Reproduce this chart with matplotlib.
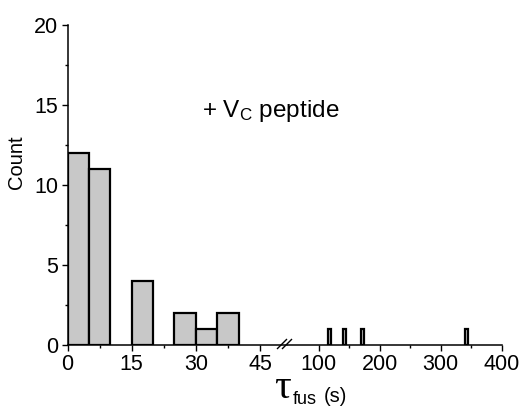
import matplotlib
matplotlib.use("Agg")
import matplotlib.pyplot as plt
from matplotlib.ticker import MultipleLocator, FixedLocator
from matplotlib.lines import Line2D

plt.rcParams['font.family'] = ['Liberation Sans', 'DejaVu Sans']
plt.rcParams['mathtext.fontset'] = 'custom'
plt.rcParams['mathtext.rm'] = 'Liberation Sans'
plt.rcParams['mathtext.it'] = 'Liberation Sans'
plt.rcParams['mathtext.sf'] = 'Liberation Serif'

# ---- data ----
left_bin_starts = [0, 5, 10, 15, 20, 25, 30, 35]
left_counts = [12, 11, 0, 4, 0, 2, 1, 2]
right_bin_starts = [115, 140, 170, 340]
right_counts = [1, 1, 1, 1]
bin_width = 5
left_xticks = [0, 15, 30, 45]
right_xticks = [100, 200, 300, 400]
yticks = [0, 5, 10, 15, 20]

W, H = 519, 407
fig = plt.figure(figsize=(W / 100, H / 100), dpi=100)

def fx(x):
    return x / W

def fy(y):
    return 1 - y / H

y0, y20 = 345.0, 25.0
bottom = fy(y0)
height = (y0 - y20) / H
x_left0 = 67.5
ppu_left = 4.28
x_break = 287.5
left_xmax = (x_break - x_left0) / ppu_left
ppu_right = 0.61
right_xmin = 100 - (318.7 - x_break) / ppu_right
x_right_end = 318.7 + 300 * ppu_right

axL = fig.add_axes([fx(x_left0), bottom, fx(x_break - x_left0), height])
axR = fig.add_axes([fx(x_break), bottom, fx(x_right_end - x_break), height])

bar_kw = dict(width=bin_width, align='edge', color='#c8c8c8', edgecolor='black', linewidth=1.6)
lx = [s for s, c in zip(left_bin_starts, left_counts) if c > 0]
lc = [c for c in left_counts if c > 0]
axL.bar(lx, lc, **bar_kw)
axR.bar(right_bin_starts, right_counts, **bar_kw)

axL.set_xlim(0, left_xmax)
axR.set_xlim(right_xmin, 400)
for ax in (axL, axR):
    ax.set_ylim(0, 20)
    ax.spines['top'].set_visible(False)
    ax.spines['right'].set_visible(False)
    ax.spines['bottom'].set_linewidth(1.1)
    ax.spines['left'].set_linewidth(1.1)
    ax.tick_params(which='major', direction='out', length=4.5, width=1.0, labelsize=15.5, pad=2)
    ax.tick_params(which='minor', direction='out', length=2.5, width=1.0)
    ax.set_facecolor('none')

axL.set_xticks(left_xticks)
axL.xaxis.set_minor_locator(FixedLocator([7.5, 22.5, 37.5]))
axL.set_yticks(yticks)
axL.yaxis.set_minor_locator(MultipleLocator(2.5))

axR.set_xticks(right_xticks)
axR.xaxis.set_minor_locator(FixedLocator([150, 250, 350]))
axR.spines['left'].set_visible(False)
axR.set_yticks([])
axR.yaxis.set_minor_locator(FixedLocator([]))

# y label
fig.text(fx(16.5), fy(162.5), 'Count', fontsize=14.5, rotation=90, ha='center', va='center')

# break marks
for dx in (-8, -3):
    fig.add_artist(Line2D([fx(x_break + dx - 2), fx(x_break + dx + 7)],
                          [fy(348.5), fy(339.5)], color='black', lw=1.0))

# annotation
fig.text(fx(202.5), fy(116.7), r'+ V$_\mathrm{C}$ peptide', fontsize=17.5, va='baseline', ha='left')

# x label pieces
fig.text(fx(274.5), fy(398), r'$\mathsf{\tau}$', fontsize=30, va='baseline', ha='left')
fig.text(fx(293), fy(403.5), 'fus', fontsize=13, va='baseline', ha='left')
fig.text(fx(324), fy(402), '(s)', fontsize=14.5, va='baseline', ha='left')

fig.savefig('out.png', dpi=100)
